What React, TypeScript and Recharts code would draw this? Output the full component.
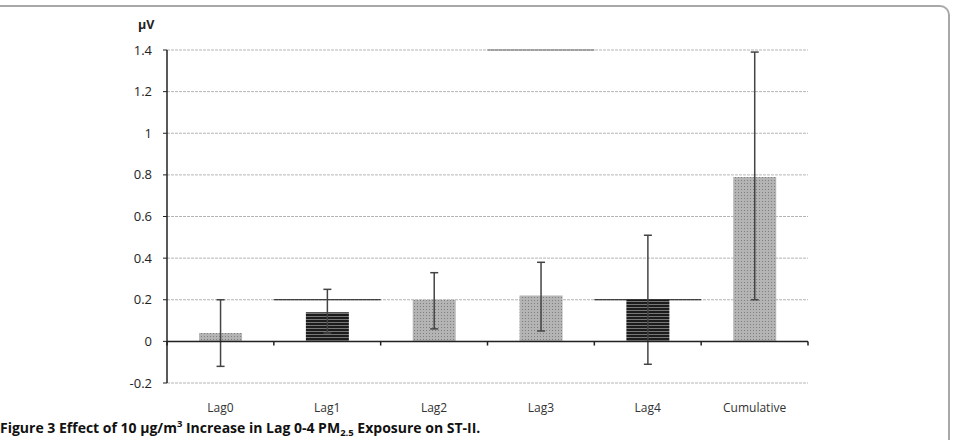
import React from 'react';
import {
  BarChart, Bar, XAxis, YAxis, CartesianGrid, ErrorBar, Cell, ReferenceLine,
} from 'recharts';

// Effect estimates (µV) with 95% CI per lag
const lags = ['Lag0', 'Lag1', 'Lag2', 'Lag3', 'Lag4', 'Cumulative'];
const effect = [0.04, 0.14, 0.2, 0.22, 0.2, 0.79];
const ciLow = [-0.12, 0.04, 0.06, 0.05, -0.11, 0.2];
const ciHigh = [0.2, 0.25, 0.33, 0.38, 0.51, 1.39];
const yTicks = [-0.2, 0, 0.2, 0.4, 0.6, 0.8, 1, 1.2, 1.4];

// darker stretches of gridline left over in the original plot
const darkRuns = [
  { from: 'Lag1', to: 'Lag2', y: 0.2, at: 'start', color: '#111' },
  { from: 'Lag3', to: 'Lag4', y: 0.2, at: 'end', color: '#111' },
  { from: 'Lag2', to: 'Lag3', y: 1.4, at: 'end', color: '#666' },
];

const fills = ['url(#dots)', 'url(#stripes)', 'url(#dots)', 'url(#dots)', 'url(#stripes)', 'url(#dots)'];

const data = lags.map((name, i) => ({
  name,
  value: effect[i],
  err: [effect[i] - ciLow[i], ciHigh[i] - effect[i]],
}));

// tick marks sit on the category boundaries along the zero line
const boundaries = lags.map(name => ({ name, at: 'start' })).concat({ name: lags[lags.length - 1], at: 'end' });

const font = '"Open Sans", Lato, "Liberation Sans", sans-serif';

export default function App() {
  return (
    <div style={{ position: 'absolute', left: 0, top: 0, width: 953, height: 440, overflow: 'hidden', background: '#fff' }}>
      {/* panel frame */}
      <div style={{
        position: 'absolute', left: -20, top: 5, width: 968, height: 480,
        borderTop: '2px solid #a8a8a8', borderRight: '2px solid #a8a8a8', borderTopRightRadius: 10,
      }} />
      <div style={{ position: 'absolute', left: 138, top: 16, fontFamily: font, fontWeight: 700, fontSize: 12.5, color: '#222' }}>µV</div>
      <BarChart
        width={953}
        height={420}
        data={data}
        margin={{ top: 50, right: 145, left: 107, bottom: 7 }}
        barCategoryGap="30%"
        style={{ position: 'absolute', left: 0, top: 0 }}
      >
        <defs>
          <pattern id="dots" width="3" height="3" patternUnits="userSpaceOnUse">
            <rect width="3" height="3" fill="#b4b4b4" />
            <rect width="1" height="1" fill="#808080" />
          </pattern>
          <pattern id="stripes" width="4" height="3" patternUnits="userSpaceOnUse">
            <rect width="4" height="3" fill="#1c1c1c" />
            <rect y="1" width="4" height="1" fill="#777" />
          </pattern>
        </defs>
        <CartesianGrid vertical={false} stroke="#b5b5b5" strokeDasharray="3 1" />
        <XAxis
          dataKey="name"
          axisLine={false}
          tickLine={false}
          tickMargin={14}
          height={30}
          tick={{ fill: '#333', fontSize: 12, fontFamily: font }}
        />
        <YAxis
          domain={[-0.2, 1.4]}
          ticks={yTicks}
          width={60}
          interval={0}
          axisLine={{ stroke: '#222', strokeWidth: 1.5 }}
          tickLine={{ stroke: '#222' }}
          tickSize={4}
          tickMargin={11}
          tick={{ fill: '#222', fontSize: 13, fontFamily: font }}
        />
        {darkRuns.map((r, i) => (
          <ReferenceLine
            key={`run${i}`}
            position={r.at as any}
            segment={[{ x: r.from, y: r.y }, { x: r.to, y: r.y }]}
            stroke={r.color}
            strokeWidth={1.2}
          />
        ))}
        <Bar dataKey="value" isAnimationActive={false}>
          {data.map((d, i) => <Cell key={d.name} fill={fills[i]} />)}
          <ErrorBar dataKey="err" width={4} stroke="#444" strokeWidth={1.5} />
        </Bar>
        <ReferenceLine y={0} stroke="#222" strokeWidth={1.5} />
        {boundaries.map((b, i) => (
          <ReferenceLine
            key={`tick${i}`}
            position={b.at as any}
            segment={[{ x: b.name, y: 0 }, { x: b.name, y: -0.02 }]}
            stroke="#222"
            strokeWidth={1.5}
          />
        ))}
      </BarChart>
      <div style={{
        position: 'absolute', left: 0, top: 418, whiteSpace: 'nowrap', lineHeight: '20px',
        fontFamily: '"Open Sans", "Noto Sans", sans-serif', fontWeight: 700, fontSize: 14, color: '#111',
      }}>
        Figure 3 Effect of 10 µg/m<sup style={{ fontSize: 9.5, verticalAlign: 6, lineHeight: 0 }}>3</sup> Increase in Lag 0-4 PM<sub style={{ fontSize: 9.5, verticalAlign: -3, lineHeight: 0 }}>2.5</sub> Exposure on ST-II.
      </div>
    </div>
  );
}
